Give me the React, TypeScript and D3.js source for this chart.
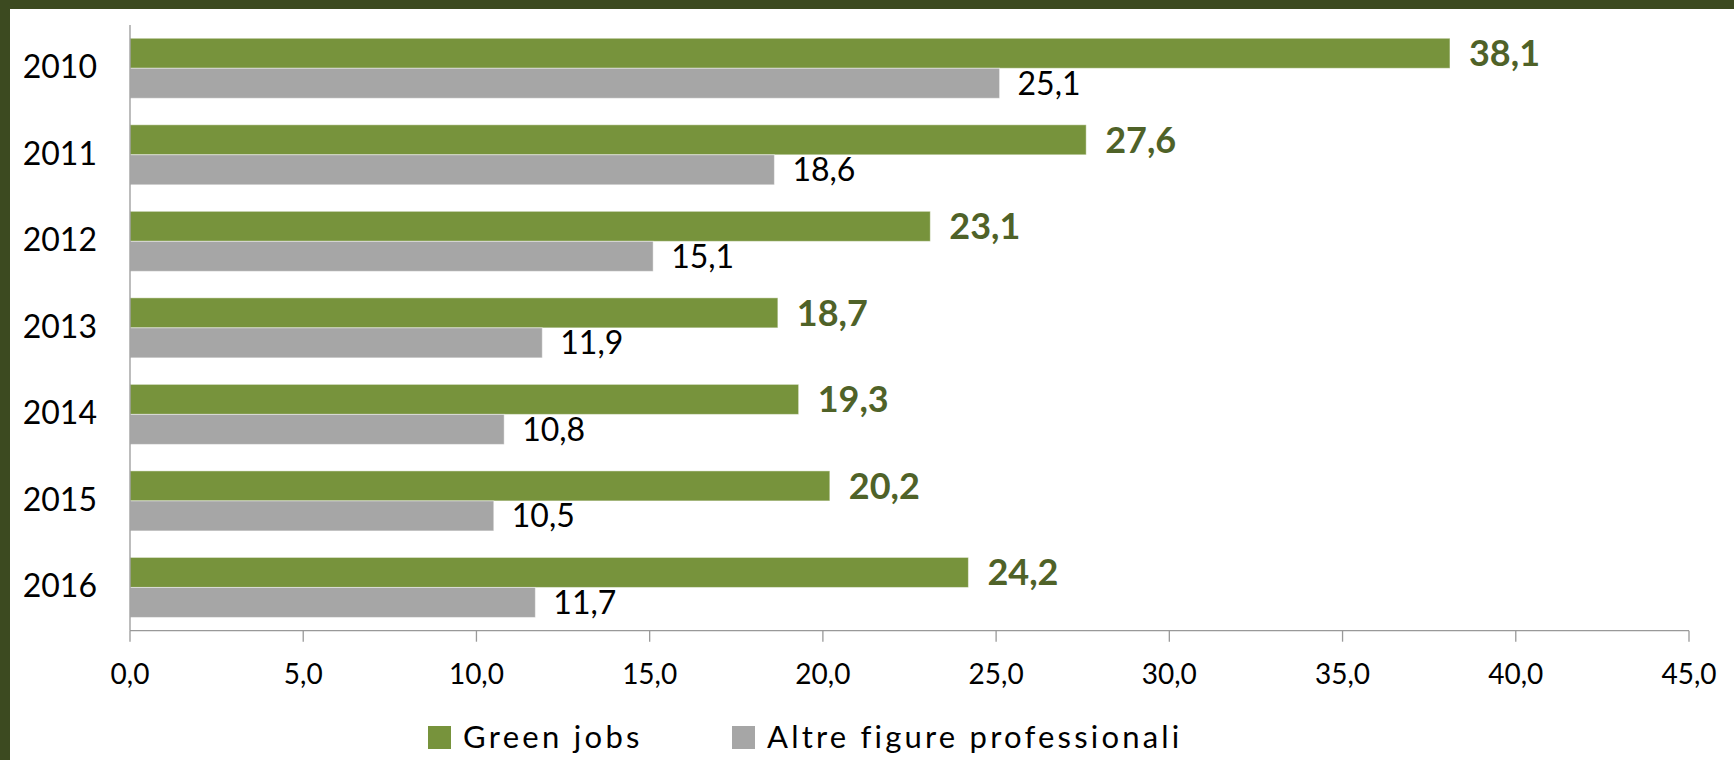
import React from "react";
import * as d3 from "d3";

const years = ["2010", "2011", "2012", "2013", "2014", "2015", "2016"];
const greenJobs = [38.1, 27.6, 23.1, 18.7, 19.3, 20.2, 24.2];
const altreFigure = [25.1, 18.6, 15.1, 11.9, 10.8, 10.5, 11.7];
const xTicks = [0, 5, 10, 15, 20, 25, 30, 35, 40, 45];
const seriesNames = ["Green jobs", "Altre figure professionali"];

const W = 1734;
const H = 760;
const FONT = "Lato, 'Open Sans', sans-serif";
const GREEN = "#77933C";
const GREEN_DARK = "#4F6228";
const GRAY = "#A6A6A6";
const FRAME = "#3C4A20";
const AXIS = "#999999";

const itLocale = d3.formatLocale({
  decimal: ",",
  thousands: ".",
  grouping: [3],
  currency: ["", "€"],
});
const fmt = itLocale.format(".1f");

// Lato cap height ratio, used to centre digits on a bar
const CAP = 0.7165;

export default function App() {
  const left = 130;
  const right = 1689;
  const top = 25;
  const bottom = 630.7;

  const x = d3.scaleLinear().domain([0, 45]).range([left, right]);
  const y = d3
    .scaleBand<string>()
    .domain(years)
    .range([top, bottom])
    .paddingInner(0.3066)
    .paddingOuter(0.1533);
  const half = y.bandwidth() / 2;

  const greenSize = 36;
  const graySize = 32;

  return (
    <svg
      width={W}
      height={H}
      viewBox={`0 0 ${W} ${H}`}
      style={{ position: "fixed", left: 0, top: 0, display: "block" }}
      fontFamily={FONT}
    >
      <rect x={0} y={0} width={W} height={H} fill="#ffffff" />
      {/* dark frame along the top and left edges */}
      <rect x={0} y={0} width={W} height={9} fill={FRAME} />
      <rect x={0} y={0} width={10} height={H} fill={FRAME} />

      {/* bars */}
      {years.map((yr, i) => {
        const y0 = y(yr)!;
        return (
          <g key={yr}>
            <rect
              x={x(0)}
              y={y0}
              width={x(greenJobs[i]) - x(0)}
              height={half}
              fill={GREEN}
              stroke="#ffffff"
              strokeOpacity={0.45}
              strokeWidth={1}
            />
            <rect
              x={x(0)}
              y={y0 + half}
              width={x(altreFigure[i]) - x(0)}
              height={half}
              fill={GRAY}
              stroke="#ffffff"
              strokeOpacity={0.45}
              strokeWidth={1}
            />
            <text
              x={x(greenJobs[i]) + 19}
              y={y0 + half / 2 + (greenSize * CAP) / 2}
              fontSize={greenSize}
              fontWeight={700}
              fill={GREEN_DARK}
            >
              {fmt(greenJobs[i])}
            </text>
            <text
              x={x(altreFigure[i]) + 18}
              y={y0 + half * 1.5 + (graySize * CAP) / 2}
              fontSize={graySize}
              fill="#000000"
            >
              {fmt(altreFigure[i])}
            </text>
            <text
              x={97}
              y={y0 + half + (32 * CAP) / 2 - 1.5}
              fontSize={32}
              textAnchor="end"
              fill="#000000"
            >
              {yr}
            </text>
          </g>
        );
      })}

      {/* axes */}
      <line x1={left} x2={left} y1={top} y2={bottom} stroke={AXIS} strokeWidth={1.3} />
      <line x1={left} x2={right} y1={bottom} y2={bottom} stroke={AXIS} strokeWidth={1.3} />
      {xTicks.map((t) => (
        <g key={t}>
          <line
            x1={x(t)}
            x2={x(t)}
            y1={bottom}
            y2={bottom + 11}
            stroke={AXIS}
            strokeWidth={1.3}
          />
          <text x={x(t)} y={684} fontSize={28} textAnchor="middle" fill="#000000">
            {fmt(t)}
          </text>
        </g>
      ))}

      {/* legend */}
      <rect x={428} y={726} width={23} height={23} fill={GREEN} />
      <text x={463} y={748} fontSize={31} letterSpacing={3.3} fill="#000000">
        {seriesNames[0]}
      </text>
      <rect x={732} y={726} width={23} height={23} fill={GRAY} />
      <text x={767} y={748} fontSize={31} letterSpacing={3.2} fill="#000000">
        {seriesNames[1]}
      </text>
    </svg>
  );
}
